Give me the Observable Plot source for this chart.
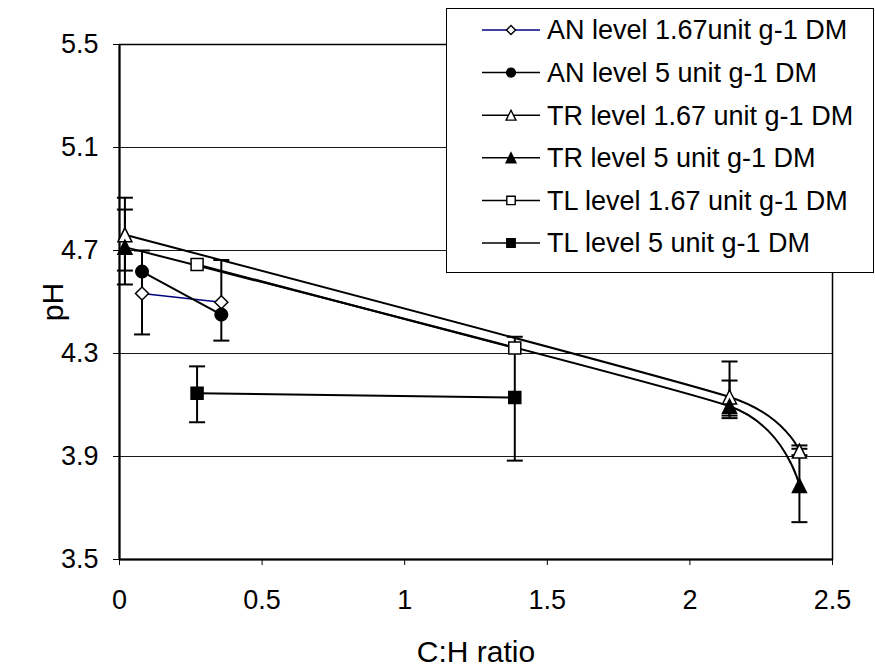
<!DOCTYPE html>
<html>
<head>
<meta charset="utf-8">
<script src="https://cdn.jsdelivr.net/npm/d3@7"></script>
<script src="https://cdn.jsdelivr.net/npm/@observablehq/plot@0.6"></script>
<style>
  body { margin: 0; background: #fff; }
  #wrap { position: relative; width: 875px; height: 669px; font-family: Arial, "Liberation Sans", sans-serif; }
  #legend { position: absolute; left: 446px; top: 8px; }
</style>
</head>
<body>
<div id="wrap"><div id="chart"></div><div id="legend"></div></div>
<script>
// ---- data ----
const seriesNames = [
  "AN level 1.67unit g-1 DM",
  "AN level 5 unit g-1 DM",
  "TR level 1.67 unit g-1 DM",
  "TR level 5 unit g-1 DM",
  "TL level 1.67 unit g-1 DM",
  "TL level 5 unit g-1 DM"
];
const an167X = [0.079, 0.357];
const an167Y = [4.533, 4.499];
const an167Lo = [4.374, 4.350];
const an167Hi = [4.700, 4.663];

const an5X = [0.079, 0.357];
const an5Y = [4.618, 4.451];
const an5Lo = [null, null];
const an5Hi = [null, null];

const tr167X = [0.019, 2.139, 2.384];
const tr167Y = [4.761, 4.131, 3.921];
const tr167Lo = [4.622, 4.059, 3.905];
const tr167Hi = [4.905, 4.195, 3.943];

const tr5X = [0.019, 2.139, 2.384];
const tr5Y = [4.713, 4.095, 3.787];
const tr5Lo = [4.568, 4.049, 3.645];
const tr5Hi = [4.859, 4.269, 3.930];

const tl167X = [0.272, 1.386];
const tl167Y = [4.646, 4.321];
const tl167Lo = [null, null];
const tl167Hi = [null, null];

const tl5X = [0.272, 1.386];
const tl5Y = [4.146, 4.129];
const tl5Lo = [4.033, 3.884];
const tl5Hi = [4.250, 4.365];

const xTicks = [0, 0.5, 1, 1.5, 2, 2.5];
const yTicks = [3.5, 3.9, 4.3, 4.7, 5.1, 5.5];
const xTitle = "C:H ratio";
const yTitle = "pH";

// ---- marker shapes ----
const symDiamond = { draw(c) { const r = 6.5; c.moveTo(0, -r); c.lineTo(r, 0); c.lineTo(0, r); c.lineTo(-r, 0); c.closePath(); } };
const symCircle = { draw(c) { c.moveTo(6.3, 0); c.arc(0, 0, 6.3, 0, 2 * Math.PI); } };
const symTriangle = { draw(c) { const s = 7; c.moveTo(0, -s); c.lineTo(s, s); c.lineTo(-s, s); c.closePath(); } };
const symSquare = { draw(c) { const s = 6; c.rect(-s, -s, 2 * s, 2 * s); } };
const symCap = { draw(c) { c.moveTo(-8, 0); c.lineTo(8, 0); } };

const defs = [
  { name: seriesNames[0], xs: an167X, ys: an167Y, lo: an167Lo, hi: an167Hi, sym: symDiamond, fill: "#fff", line: "#000080", lw: 1.5 },
  { name: seriesNames[1], xs: an5X, ys: an5Y, lo: an5Lo, hi: an5Hi, sym: symCircle, fill: "#000", line: "#000", lw: 2 },
  { name: seriesNames[2], xs: tr167X, ys: tr167Y, lo: tr167Lo, hi: tr167Hi, sym: symTriangle, fill: "#fff", line: "#000", lw: 2 },
  { name: seriesNames[3], xs: tr5X, ys: tr5Y, lo: tr5Lo, hi: tr5Hi, sym: symTriangle, fill: "#000", line: "#000", lw: 2 },
  { name: seriesNames[4], xs: tl167X, ys: tl167Y, lo: tl167Lo, hi: tl167Hi, sym: symSquare, fill: "#fff", line: "#000", lw: 2 },
  { name: seriesNames[5], xs: tl5X, ys: tl5Y, lo: tl5Lo, hi: tl5Hi, sym: symSquare, fill: "#000", line: "#000", lw: 2 }
];
defs.forEach(d => { d.rows = d.xs.map((x, i) => ({ x, y: d.ys[i], lo: d.lo[i], hi: d.hi[i] })); });

const errMarks = [], lineMarks = [], dotMarks = [];
defs.forEach(d => {
  const eb = d.rows.filter(r => r.lo != null);
  errMarks.push(Plot.ruleX(eb, { x: "x", y1: "lo", y2: "hi", stroke: "#000", strokeWidth: 2 }));
  errMarks.push(Plot.dot(eb, { x: "x", y: "lo", symbol: symCap, stroke: "#000", strokeWidth: 2, fill: "none", r: 5 }));
  errMarks.push(Plot.dot(eb, { x: "x", y: "hi", symbol: symCap, stroke: "#000", strokeWidth: 2, fill: "none", r: 5 }));
  lineMarks.push(Plot.line(d.rows, { x: "x", y: "y", curve: "cardinal", tension: 0.5, stroke: d.line, strokeWidth: d.lw }));
  dotMarks.push(Plot.dot(d.rows, { x: "x", y: "y", symbol: d.sym, fill: d.fill, stroke: "#000", strokeWidth: 1.5, r: 6 }));
});

const chart = Plot.plot({
  width: 875, height: 669,
  marginLeft: 119, marginRight: 43, marginTop: 44, marginBottom: 110,
  style: { fontFamily: 'Arial, "Liberation Sans", sans-serif', color: "#000", background: "#fff", overflow: "visible" },
  x: { domain: [0, 2.5] },
  y: { domain: [3.5, 5.5] },
  marks: [
    Plot.gridY(yTicks, { stroke: "#000", strokeOpacity: 0.9, strokeWidth: 1 }),
    Plot.frame({ stroke: "#000", strokeWidth: 1.5 }),
    Plot.ruleX([0], { stroke: "#000", strokeWidth: 2 }),
    Plot.ruleY([3.5], { stroke: "#000", strokeWidth: 2 }),
    Plot.axisX(xTicks, { tickSize: 6, tickPadding: 24, label: null, fontSize: 27, tickFormat: d => String(d) }),
    Plot.axisY(yTicks, { tickSize: 6, tickPadding: 15, label: null, fontSize: 27, tickFormat: d => d.toFixed(1) }),
    ...lineMarks,
    ...errMarks,
    ...dotMarks,
    Plot.text([yTitle], { frameAnchor: "left", dx: -66, rotate: -90, fontSize: 30, textAnchor: "middle", lineAnchor: "middle" }),
    Plot.text([xTitle], { frameAnchor: "bottom", dy: 93, fontSize: 30, textAnchor: "middle", lineAnchor: "middle" })
  ]
});
document.getElementById("chart").appendChild(chart);

// ---- legend ----
const lw = 428, lh = 265;
const svg = d3.select("#legend").append("svg").attr("width", lw).attr("height", lh)
  .style("font-family", 'Arial, "Liberation Sans", sans-serif');
svg.append("rect").attr("x", 0.5).attr("y", 0.5).attr("width", lw - 1).attr("height", lh - 1)
  .attr("fill", "#fff").attr("stroke", "#000").attr("stroke-width", 1);
const legSym = [symDiamond, symCircle, symTriangle, symTriangle, symSquare, symSquare];
defs.forEach((d, i) => {
  const cy = 22 + i * 42.6;
  svg.append("line").attr("x1", 36).attr("x2", 94).attr("y1", cy).attr("y2", cy)
    .attr("stroke", d.line).attr("stroke-width", 1.5);
  const p = d3.path(); legSym[i].draw(p);
  svg.append("path").attr("d", p.toString())
    .attr("transform", `translate(65,${cy}) scale(0.7)`)
    .attr("fill", d.fill).attr("stroke", "#000").attr("stroke-width", 2);
  svg.append("text").attr("x", 101).attr("y", cy).attr("dy", "0.35em")
    .attr("font-size", 27).attr("fill", "#000").text(d.name);
});
</script>
</body>
</html>
